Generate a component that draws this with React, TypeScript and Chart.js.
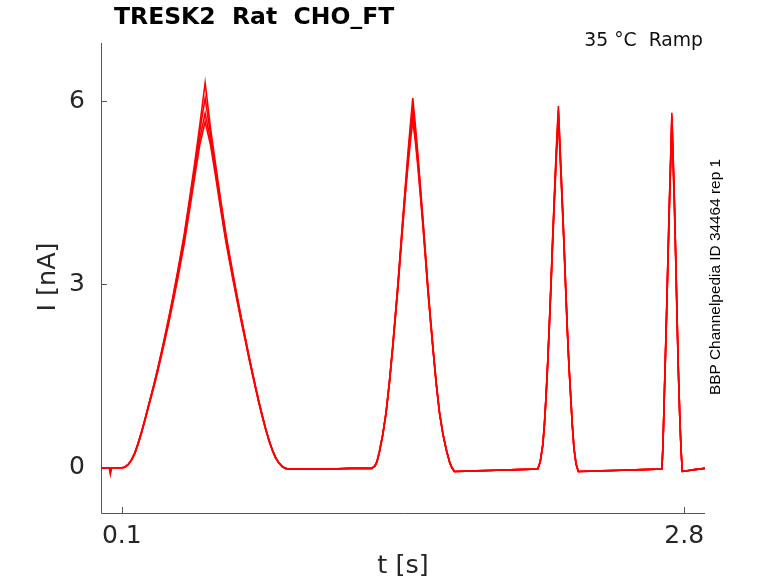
import React, { useEffect, useRef } from 'react';
import { Chart, registerables } from 'chart.js';

Chart.register(...registerables);

// sample times [s], shared by all sweeps (one line per protocol segment)
const times = [
  0, 0.04, 0.045, 0.05, 0.1,
  0.114, 0.13, 0.146, 0.162, 0.178, 0.194, 0.21, 0.226, 0.242, 0.258, 0.274, 0.29, 0.306, 0.326, 0.346, 0.37, 0.4, 0.426, 0.45, 0.474, 0.5,
  0.526, 0.55, 0.574, 0.6, 0.63, 0.654, 0.674, 0.694, 0.71, 0.726, 0.742, 0.758, 0.774, 0.79, 0.806, 0.822, 0.838, 0.854, 0.87, 0.886, 0.9,
  1.0, 1.1, 1.2, 1.3,
  1.315, 1.325, 1.337, 1.353, 1.369, 1.385, 1.401, 1.413, 1.425, 1.437, 1.449, 1.461, 1.473, 1.485, 1.497,
  1.509, 1.521, 1.533, 1.545, 1.557, 1.569, 1.582, 1.596, 1.61, 1.625, 1.642, 1.66, 1.675, 1.685, 1.697,
  1.8, 1.9, 2.0, 2.097,
  2.109, 2.121, 2.129, 2.137, 2.145, 2.153, 2.161, 2.169, 2.177, 2.185, 2.196,
  2.207, 2.215, 2.223, 2.231, 2.239, 2.247, 2.255, 2.263, 2.271, 2.281, 2.292,
  2.4, 2.5, 2.6, 2.693,
  2.698, 2.704, 2.71, 2.715, 2.721, 2.728, 2.741,
  2.753, 2.76, 2.766, 2.772, 2.779, 2.785, 2.791,
  2.85, 2.9,
];

// current [nA] for each repetition
const sweep1 = [
  0, 0, -0.1, 0, 0,
  0.01, 0.05, 0.13, 0.24, 0.4, 0.58, 0.78, 0.99, 1.2, 1.42, 1.65, 1.89, 2.14, 2.47, 2.81, 3.25, 3.83, 4.42, 4.99, 5.6, 6.3,
  5.55, 4.97, 4.4, 3.82, 3.24, 2.8, 2.45, 2.11, 1.84, 1.58, 1.33, 1.09, 0.86, 0.65, 0.46, 0.3, 0.17, 0.08, 0.02, -0.01, -0.02,
  -0.02, -0.02, -0.01, -0.01,
  0.03, 0.1, 0.27, 0.55, 0.92, 1.42, 2.01, 2.5, 2.99, 3.53, 4.08, 4.6, 5.12, 5.6, 6.05,
  5.62, 5.15, 4.62, 4.1, 3.55, 2.99, 2.45, 1.9, 1.38, 0.92, 0.55, 0.27, 0.08, 0, -0.06,
  -0.05, -0.04, -0.03, -0.02,
  0.1, 0.38, 0.72, 1.19, 1.75, 2.39, 3.08, 3.81, 4.48, 5.14, 5.92,
  5.03, 4.38, 3.71, 2.98, 2.28, 1.68, 1.19, 0.7, 0.32, 0.06, -0.06,
  -0.05, -0.04, -0.03, -0.02,
  0.35, 1.11, 1.85, 2.48, 3.3, 4.24, 5.81,
  4.4, 3.4, 2.47, 1.62, 0.84, 0.3, -0.06,
  -0.03, -0.01,
];
const sweep2 = [
  0, 0, -0.08, 0, 0,
  0.01, 0.05, 0.13, 0.24, 0.4, 0.58, 0.78, 0.99, 1.2, 1.41, 1.64, 1.88, 2.13, 2.45, 2.79, 3.22, 3.79, 4.37, 4.92, 5.5, 6.05,
  5.45, 4.9, 4.35, 3.78, 3.21, 2.78, 2.43, 2.1, 1.83, 1.57, 1.32, 1.08, 0.86, 0.65, 0.46, 0.3, 0.17, 0.08, 0.02, -0.01, -0.02,
  -0.02, -0.02, -0.01, -0.01,
  0.03, 0.1, 0.27, 0.55, 0.91, 1.41, 2.0, 2.48, 2.97, 3.5, 4.04, 4.55, 5.05, 5.5, 5.88,
  5.52, 5.08, 4.58, 4.06, 3.52, 2.97, 2.43, 1.89, 1.37, 0.91, 0.55, 0.27, 0.08, 0, -0.06,
  -0.05, -0.04, -0.03, -0.02,
  0.1, 0.37, 0.71, 1.18, 1.74, 2.37, 3.05, 3.78, 4.44, 5.08, 5.85,
  4.98, 4.34, 3.68, 2.96, 2.27, 1.67, 1.18, 0.7, 0.32, 0.06, -0.06,
  -0.05, -0.04, -0.03, -0.02,
  0.35, 1.1, 1.84, 2.46, 3.27, 4.2, 5.76,
  4.36, 3.37, 2.45, 1.61, 0.83, 0.3, -0.06,
  -0.03, -0.01,
];
const sweep3 = [
  0, 0, -0.06, 0, 0,
  0.01, 0.05, 0.12, 0.23, 0.39, 0.57, 0.77, 0.98, 1.19, 1.4, 1.62, 1.86, 2.1, 2.42, 2.75, 3.17, 3.73, 4.3, 4.84, 5.38, 5.8,
  5.36, 4.83, 4.29, 3.73, 3.17, 2.75, 2.41, 2.08, 1.81, 1.56, 1.31, 1.07, 0.85, 0.64, 0.45, 0.29, 0.17, 0.08, 0.02, -0.01, -0.02,
  -0.02, -0.02, -0.01, -0.01,
  0.03, 0.1, 0.26, 0.54, 0.9, 1.4, 1.98, 2.46, 2.94, 3.47, 4.0, 4.5, 4.98, 5.4, 5.76,
  5.42, 5.0, 4.52, 4.02, 3.49, 2.94, 2.41, 1.87, 1.36, 0.9, 0.54, 0.26, 0.08, 0, -0.06,
  -0.05, -0.04, -0.03, -0.02,
  0.1, 0.37, 0.7, 1.17, 1.72, 2.35, 3.02, 3.74, 4.4, 5.03, 5.8,
  4.93, 4.3, 3.65, 2.94, 2.25, 1.66, 1.17, 0.69, 0.31, 0.06, -0.06,
  -0.05, -0.04, -0.03, -0.02,
  0.34, 1.09, 1.83, 2.44, 3.24, 4.16, 5.7,
  4.32, 3.34, 2.43, 1.6, 0.82, 0.29, -0.06,
  -0.03, -0.01,
];
const sweep4 = [
  0, 0, -0.05, 0, 0,
  0.01, 0.05, 0.12, 0.23, 0.38, 0.56, 0.76, 0.97, 1.17, 1.38, 1.6, 1.83, 2.07, 2.38, 2.71, 3.12, 3.67, 4.23, 4.76, 5.28, 5.66,
  5.28, 4.77, 4.24, 3.69, 3.14, 2.72, 2.38, 2.06, 1.79, 1.54, 1.3, 1.06, 0.84, 0.63, 0.45, 0.29, 0.16, 0.08, 0.02, -0.01, -0.02,
  -0.02, -0.02, -0.01, -0.01,
  0.03, 0.1, 0.26, 0.54, 0.9, 1.39, 1.96, 2.44, 2.91, 3.44, 3.96, 4.45, 4.92, 5.32, 5.68,
  5.35, 4.94, 4.47, 3.98, 3.46, 2.91, 2.39, 1.85, 1.35, 0.9, 0.54, 0.26, 0.08, 0, -0.06,
  -0.05, -0.04, -0.03, -0.02,
  0.1, 0.36, 0.69, 1.16, 1.7, 2.33, 3.0, 3.7, 4.36, 4.98, 5.74,
  4.88, 4.26, 3.62, 2.92, 2.23, 1.65, 1.16, 0.69, 0.31, 0.06, -0.06,
  -0.05, -0.04, -0.03, -0.02,
  0.34, 1.08, 1.82, 2.42, 3.21, 4.12, 5.64,
  4.28, 3.31, 2.41, 1.59, 0.81, 0.29, -0.06,
  -0.03, -0.01,
];

const xTicks = [0.1, 2.8];
const yTicks = [0, 3, 6];
const xRange = [0, 2.9];
const yRange = [-0.74, 6.95];

const sweeps = [sweep1, sweep2, sweep3, sweep4];

const tickColor = '#262626';
const axisColor = '#555555';

const axesPlugin = {
  id: 'figureAxes',
  beforeDatasetsDraw(chart: any) {
    const { ctx, chartArea, scales } = chart;
    const right = scales.x.getPixelForValue(xRange[1]);
    ctx.save();
    ctx.strokeStyle = axisColor;
    ctx.lineWidth = 1;
    ctx.beginPath();
    // spines (left and bottom only)
    ctx.moveTo(chartArea.left + 0.5, chartArea.top);
    ctx.lineTo(chartArea.left + 0.5, chartArea.bottom + 0.5);
    ctx.lineTo(right, chartArea.bottom + 0.5);
    // inward ticks
    yTicks.forEach((v) => {
      const y = Math.round(scales.y.getPixelForValue(v)) + 0.5;
      ctx.moveTo(chartArea.left, y);
      ctx.lineTo(chartArea.left + 6, y);
    });
    xTicks.forEach((v) => {
      const x = Math.round(scales.x.getPixelForValue(v)) + 0.5;
      ctx.moveTo(x, chartArea.bottom);
      ctx.lineTo(x, chartArea.bottom - 6);
    });
    ctx.stroke();
    ctx.restore();
  },
};

const textPlugin = {
  id: 'figureText',
  afterDraw(chart: any) {
    const { ctx } = chart;
    ctx.save();

    // title
    ctx.fillStyle = '#000000';
    ctx.font = 'bold 23.5px "DejaVu Sans"';
    ctx.textAlign = 'left';
    ctx.textBaseline = 'middle';
    ctx.fillText('TRESK2  Rat  CHO_FT', 114, 18);

    // protocol
    ctx.fillStyle = '#111111';
    ctx.font = '18.8px "DejaVu Sans"';
    ctx.textAlign = 'right';
    ctx.fillText('35 °C  Ramp', 703, 41);

    // axis titles
    ctx.fillStyle = tickColor;
    ctx.font = '25.5px "DejaVu Sans"';
    ctx.textAlign = 'center';
    ctx.fillText('t [s]', 403, 566);
    ctx.save();
    ctx.translate(48, 277);
    ctx.rotate(-Math.PI / 2);
    ctx.fillText('I [nA]', 0, 0);
    ctx.restore();

    // side note
    ctx.save();
    ctx.fillStyle = '#000000';
    ctx.font = '15.4px "Liberation Sans"';
    ctx.translate(716, 277);
    ctx.rotate(-Math.PI / 2);
    ctx.textAlign = 'center';
    ctx.fillText('BBP Channelpedia ID 34464 rep 1', 0, 0);
    ctx.restore();

    ctx.restore();
  },
};

const App: React.FC = () => {
  const chartRef = useRef<HTMLCanvasElement | null>(null);
  const chartInstanceRef = useRef<Chart | null>(null);

  useEffect(() => {
    if (chartRef.current) {
      const ctx = chartRef.current.getContext('2d');
      if (ctx) {
        chartInstanceRef.current = new Chart(ctx, {
          type: 'line',
          data: {
            datasets: sweeps.map((vals, i) => ({
              label: `sweep ${i + 1}`,
              data: times.map((t, j) => ({ x: t, y: vals[j] })),
              borderColor: '#ff0000',
              borderWidth: 1.6,
              pointRadius: 0,
              tension: 0,
              fill: false,
            })),
          },
          options: {
            animation: false,
            responsive: false,
            maintainAspectRatio: false,
            layout: { padding: { left: 0, top: 43, right: 73, bottom: 0 } },
            plugins: {
              legend: { display: false },
              tooltip: { enabled: false },
            },
            scales: {
              x: {
                type: 'linear',
                min: xRange[0],
                max: xRange[1],
                afterBuildTicks: (scale: any) => {
                  scale.ticks = xTicks.map((v) => ({ value: v }));
                },
                afterFit: (scale: any) => {
                  scale.height = 70;
                },
                grid: { display: false, drawTicks: false },
                border: { display: false },
                ticks: {
                  color: tickColor,
                  padding: 8,
                  maxRotation: 0,
                  font: { family: 'DejaVu Sans', size: 25 },
                  callback: (v: any) => String(v),
                },
              },
              y: {
                type: 'linear',
                min: yRange[0],
                max: yRange[1],
                afterBuildTicks: (scale: any) => {
                  scale.ticks = yTicks.map((v) => ({ value: v }));
                },
                afterFit: (scale: any) => {
                  scale.width = 101;
                },
                grid: { display: false, drawTicks: false },
                border: { display: false },
                ticks: {
                  color: tickColor,
                  padding: 16,
                  font: { family: 'DejaVu Sans', size: 25 },
                  callback: (v: any) => String(v),
                },
              },
            },
          },
          plugins: [axesPlugin, textPlugin],
        });
      }
    }

    return () => {
      if (chartInstanceRef.current) {
        chartInstanceRef.current.destroy();
      }
    };
  }, []);

  return (
    <div style={{ position: 'absolute', left: 0, top: 0, width: 778, height: 583, background: '#ffffff' }}>
      <canvas ref={chartRef} width={778} height={583} style={{ width: 778, height: 583 }} />
    </div>
  );
};

export default App;
